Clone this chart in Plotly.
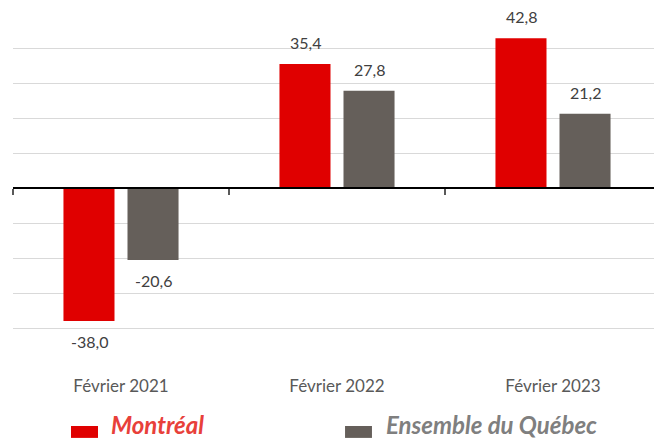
import plotly.graph_objects as go

periodes = ['Février 2021', 'Février 2022', 'Février 2023']
montreal = [-38.0, 35.4, 42.8]
quebec = [-20.6, 27.8, 21.2]

rouge = '#E00000'
gris = '#655F5A'
police = 'Lato, "Open Sans", sans-serif'

fig = go.Figure()
fig.add_trace(go.Bar(
    x=periodes, y=montreal, name='Montréal',
    marker=dict(color=rouge, line=dict(width=0)),
    hovertemplate='%{x}: %{y:.1f}<extra>Montréal</extra>',
))
fig.add_trace(go.Bar(
    x=periodes, y=quebec, name='Ensemble du Québec',
    marker=dict(color=gris, line=dict(width=0)),
    hovertemplate='%{x}: %{y:.1f}<extra>Ensemble du Québec</extra>',
))
# axe du zéro avec séparateurs de catégories
fig.add_trace(go.Scatter(
    x=periodes, y=[0, 0, 0], xaxis='x2', mode='markers',
    marker=dict(opacity=0), showlegend=False, hoverinfo='skip',
))

# étiquettes de valeurs, un peu décollées des barres
for serie, dx in ((montreal, -32), (quebec, 32)):
    for p, v in zip(periodes, serie):
        fig.add_annotation(
            x=p, y=v, xshift=dx, yshift=10 if v >= 0 else -9,
            yanchor='bottom' if v >= 0 else 'top', showarrow=False,
            text=f'{v:.1f}'.replace('.', ','),
            font=dict(family=police, size=16, color='#404040'),
        )

fig.update_layout(
    template='none',
    width=654, height=441,
    margin=dict(l=13, r=0, t=13, b=78, autoexpand=False),
    paper_bgcolor='white', plot_bgcolor='white',
    separators=', ',
    barmode='group', bargap=0.407, bargroupgap=0.203,
    showlegend=False,
    font=dict(family=police, color='#595959'),
    xaxis=dict(
        type='category', range=[-0.5, 2.4676], automargin=False,
        showline=False, ticks='', showgrid=False, zeroline=False,
        tickfont=dict(size=17, color='#595959'),
        ticklabelstandoff=11,
    ),
    xaxis2=dict(
        type='category', range=[-0.5, 2.4676], overlaying='x',
        anchor='free', position=0.5, automargin=False,
        showline=True, linecolor='black', linewidth=1.5,
        ticks='outside', tickson='boundaries', ticklen=6,
        tickcolor='#595959', tickwidth=1.5,
        showticklabels=False, showgrid=False, zeroline=False,
    ),
    yaxis=dict(
        range=[-50, 50], dtick=10, showticklabels=False, automargin=False,
        showgrid=True, gridcolor='#D9D9D9', gridwidth=1,
        zeroline=False, showline=False, ticks='',
    ),
)

# légende
legende = [(0.0905, 0.1326, 0.1513, 'Montréal', '#E8403A', rouge),
           (0.518, 0.560, 0.580, 'Ensemble du Québec', '#7F7F7F', gris)]
for x0, x1, xt, nom, couleur_texte, couleur in legende:
    fig.add_shape(type='rect', xref='paper', yref='paper',
                  x0=x0, x1=x1, y0=-0.214, y1=-0.18,
                  fillcolor=couleur, line=dict(width=0))
    fig.add_annotation(xref='paper', yref='paper', x=xt, y=-0.177,
                       xanchor='left', yanchor='middle', showarrow=False,
                       borderpad=0, text=f'<b><i>{nom}</i></b>',
                       font=dict(family=police, size=24, color=couleur_texte))

fig.write_html('out.html', config={'displayModeBar': False},
               post_script="document.body.style.margin='0';")
